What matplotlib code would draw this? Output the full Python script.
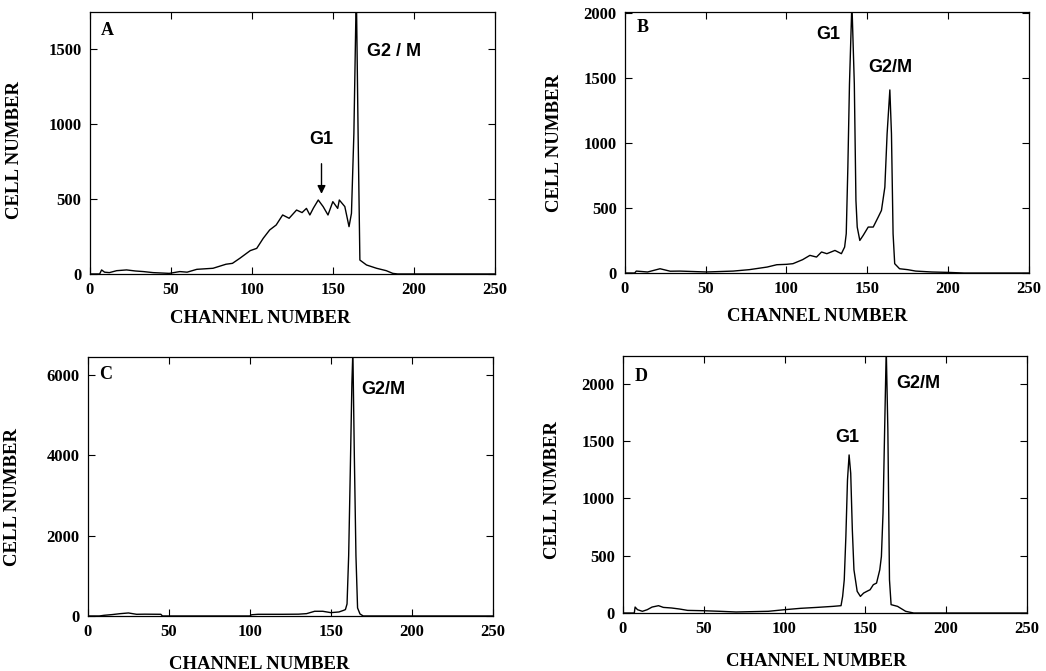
import matplotlib.pyplot as plt

# channel / cell-number pairs
chan_a = [0, 6, 7.2, 9, 12, 16.5, 22.6, 28, 33, 39, 49, 55.5, 60, 66, 76, 84, 88, 92.6, 99, 103, 107,
          111, 115, 119, 123, 127.6, 131, 133.7, 135.8, 138, 141, 144, 147, 150, 153, 154, 157.4,
          160, 161.5, 163, 164.5, 165.6, 166.7, 170.8, 177, 183, 187, 190, 250]
cells_a = [0, 0, 27, 12, 9, 22, 27, 20, 16, 9, 4, 16, 12, 31, 38, 65, 71, 105, 156, 171, 238,
           294, 327, 394, 372, 427, 410, 438, 394, 440, 494, 450, 394, 483, 438, 494, 450,
           316, 405, 939, 1900, 939, 93, 60, 38, 22, 4, 0, 0]

chan_b = [0, 6, 7, 14, 21.7, 28, 34, 50.5, 67, 77, 88, 94, 100, 104, 110, 114.5, 118.6, 121.7,
          125, 130, 134, 136, 137, 138, 139, 140.5, 142, 143, 143.8, 145.4, 147.5, 150.6,
          153.7, 156.8, 158.8, 160.9, 162.3, 164, 165, 166, 167, 170, 175, 180, 190, 200, 210, 250]
cells_b = [0, 0, 15, 8, 33, 14, 15, 8, 15, 26, 46, 64, 67, 72, 103, 136, 123, 162,
           149, 174, 149, 200, 303, 815, 1456, 2080, 1456, 559, 354, 251, 290, 354,
           354, 431, 482, 661, 1072, 1410, 1072, 302, 72, 33, 26, 15, 8, 5, 0, 0]

chan_c = [0, 7, 10, 15, 20, 25, 30, 35, 45, 46, 100, 101, 105, 120, 130, 135, 140, 145, 150,
          155, 158, 159, 160, 161, 162, 163, 163.6, 164.5, 165.5, 166.5, 168, 170, 250]
cells_c = [0, 0, 17, 35, 58, 75, 42, 45, 42, 0, 0, 30, 42, 42, 45, 58, 117, 117, 83,
           100, 142, 160, 300, 1500, 3600, 5800, 6600, 4000, 1500, 200, 50, 0, 0]

chan_d = [0, 7, 7.5, 9, 12, 15, 18, 22, 25, 30, 35, 40, 50, 60, 70, 80, 90, 100, 110, 120, 130,
          135, 136, 137, 138, 139, 140, 141, 142, 143, 145, 147, 149, 151, 153, 155, 157,
          159, 160, 161, 162, 163, 164, 165, 166, 170, 175, 180, 250]
cells_d = [0, 0, 52, 29, 15, 29, 52, 64, 49, 44, 35, 23, 20, 15, 9, 12, 15, 29, 41, 49, 58,
           64, 145, 290, 667, 1160, 1378, 1218, 725, 377, 189, 145, 174, 189, 203, 247, 261,
           377, 493, 870, 1595, 2300, 1595, 290, 73, 58, 15, 0, 0]

x_ticks = [0, 50, 100, 150, 200, 250]

SERIF = 'Liberation Serif'
SANS = 'Liberation Sans'

fig = plt.figure(figsize=(10.46, 6.71), dpi=100)


def panel(rect, chan, cells, ymax, yticks, letter, letter_y, xlab_xy, ylab_xy):
    ax = fig.add_axes(rect)
    ax.plot(chan, cells, color='k', lw=1.0)
    ax.set_xlim(0, 250)
    ax.set_ylim(0, ymax)
    ax.set_xticks(x_ticks)
    ax.set_yticks(yticks)
    ax.tick_params(direction='in', length=5, width=0.8, top=True, right=True, pad=6)
    for lab in ax.get_xticklabels() + ax.get_yticklabels():
        lab.set_fontfamily(SERIF)
        lab.set_fontweight('bold')
        lab.set_fontsize(12)
    for sp in ax.spines.values():
        sp.set_linewidth(0.9)
    ax.set_xlabel('CHANNEL NUMBER', fontfamily=SERIF, fontweight='bold', fontsize=13.5)
    ax.set_ylabel('CELL NUMBER', fontfamily=SERIF, fontweight='bold', fontsize=13.5)
    ax.xaxis.set_label_coords(*xlab_xy)
    ax.yaxis.set_label_coords(*ylab_xy)
    ax.text(7, letter_y, letter, fontfamily=SERIF, fontweight='bold', fontsize=13,
            ha='left', va='center')
    return ax


def tag(ax, x, y, s, ha='center'):
    ax.text(x, y, s, fontfamily=SANS, fontweight='bold', fontsize=13, ha=ha, va='center')


# A: top left
ax_a = panel([0.086, 0.5917, 0.387, 0.3905], chan_a, cells_a, 1750, [0, 500, 1000, 1500],
             'A', 1625, (0.42, -0.137), (-0.165, 0.473))
tag(ax_a, 171, 1485, 'G2 / M', ha='left')
ax_a.annotate('G1', xy=(143, 535), xytext=(143, 895), fontfamily=SANS, fontweight='bold',
              fontsize=13, ha='center', va='center',
              arrowprops=dict(arrowstyle='-|>', color='k', lw=1.0, mutation_scale=12,
                              shrinkA=9, shrinkB=0))

# B: top right
ax_b = panel([0.5975, 0.5931, 0.386, 0.389], chan_b, cells_b, 2010, [0, 500, 1000, 1500, 2000],
             'B', 1890, (0.475, -0.134), (-0.153, 0.498))
tag(ax_b, 126, 1840, 'G1')
tag(ax_b, 150.6, 1585, 'G2/M', ha='left')

# C: bottom left
ax_c = panel([0.0841, 0.082, 0.387, 0.386], chan_c, cells_c, 6450, [0, 2000, 4000, 6000],
             'C', 6020, (0.422, -0.154), (-0.165, 0.46))
tag(ax_c, 169, 5640, 'G2/M', ha='left')

# D: bottom right
ax_d = panel([0.5956, 0.0864, 0.386, 0.383], chan_d, cells_d, 2240, [0, 500, 1000, 1500, 2000],
             'D', 2060, (0.478, -0.156), (-0.153, 0.479))
tag(ax_d, 138.7, 1530, 'G1')
tag(ax_d, 169.5, 2000, 'G2/M', ha='left')

fig.savefig('out.png', dpi=100)
